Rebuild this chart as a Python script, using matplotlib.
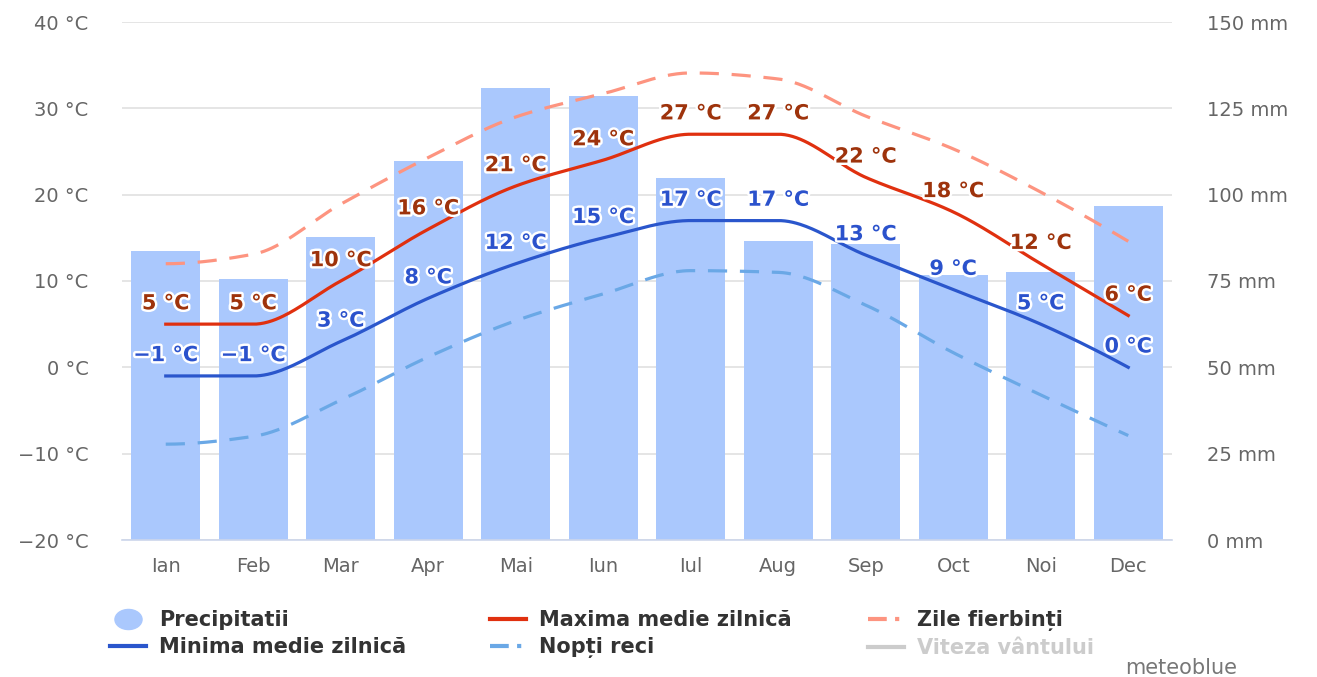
import numpy as np
import matplotlib
matplotlib.use("Agg")
import matplotlib.pyplot as plt
from matplotlib.lines import Line2D
from matplotlib.path import Path
from matplotlib.transforms import Affine2D
import matplotlib.patheffects as pe

# monthly climate values
months = ["Ian", "Feb", "Mar", "Apr", "Mai", "Iun", "Iul", "Aug", "Sep", "Oct", "Noi", "Dec"]
precip = [83.6, 75.7, 87.7, 109.7, 130.8, 128.7, 104.8, 86.6, 85.6, 76.6, 77.6, 96.6]
t_max = [5, 5, 10, 16, 21, 24, 27, 27, 22, 18, 12, 6]
t_min = [-1, -1, 3, 8, 12, 15, 17, 17, 13, 9, 5, 0]
hot_days = [12.0, 13.1, 18.9, 24.3, 29.0, 31.7, 34.1, 33.4, 29.1, 25.3, 20.3, 14.6]
cold_nights = [-8.9, -8.0, -3.8, 1.2, 5.4, 8.5, 11.2, 11.0, 7.2, 1.7, -3.2, -7.9]

temp_ticks = [-20, -10, 0, 10, 20, 30, 40]
mm_ticks = [0, 25, 50, 75, 100, 125, 150]

C_BAR = "#aac8fd"
C_MAX = "#e0300f"
C_MIN = "#2a56cc"
C_HOT = "#fd9480"
C_COLD = "#6aa8e6"
C_MAX_TXT = "#9e330c"
C_MIN_TXT = "#2b52cc"
C_TICK = "#666666"


def pchip(x, y, xs):
    # monotone cubic so flat stretches stay flat (like the original spline)
    x = np.asarray(x, float)
    y = np.asarray(y, float)
    h = np.diff(x)
    d = np.diff(y) / h
    n = len(x)
    m = np.zeros(n)
    for k in range(1, n - 1):
        if d[k - 1] * d[k] > 0:
            w1 = 2 * h[k] + h[k - 1]
            w2 = h[k] + 2 * h[k - 1]
            m[k] = (w1 + w2) / (w1 / d[k - 1] + w2 / d[k])

    def end(h0, h1, d0, d1):
        v = ((2 * h0 + h1) * d0 - h0 * d1) / (h0 + h1)
        if np.sign(v) != np.sign(d0):
            return 0.0
        if np.sign(d0) != np.sign(d1) and abs(v) > 3 * abs(d0):
            return 3 * d0
        return v

    m[0] = end(h[0], h[1], d[0], d[1])
    m[-1] = end(h[-1], h[-2], d[-1], d[-2])
    idx = np.clip(np.searchsorted(x, xs) - 1, 0, n - 2)
    t = (xs - x[idx]) / h[idx]
    h00 = 2 * t**3 - 3 * t**2 + 1
    h10 = t**3 - 2 * t**2 + t
    h01 = -2 * t**3 + 3 * t**2
    h11 = t**3 - t**2
    return h00 * y[idx] + h10 * h[idx] * m[idx] + h01 * y[idx + 1] + h11 * h[idx] * m[idx + 1]


def fmt(v):
    return f"{v} °C".replace("-", "\u2212")


W, H = 1317, 677
fig = plt.figure(figsize=(W / 100, H / 100), dpi=100)
ax = fig.add_axes([122 / W, 1 - 540 / H, 1050 / W, 518 / H])
ax2 = ax.twinx()
ax.set_zorder(ax2.get_zorder() + 1)
ax.patch.set_visible(False)

x = np.arange(len(months))
xs = np.linspace(0, len(months) - 1, 500)

# precipitation bars on the right axis
ax2.bar(x, precip, width=0.79, color=C_BAR, zorder=2)
ax2.set_ylim(0, 150)
ax2.set_yticks(mm_ticks)
ax2.set_yticklabels([f"{v} mm" for v in mm_ticks])
ax2.grid(axis="y", color="#e3e3e3", lw=1.3)
ax2.set_axisbelow(True)
ax2.tick_params(axis="y", length=0, pad=25, labelsize=14, labelcolor=C_TICK)

# temperature lines
dash = (6, 4)
ax.plot(xs, pchip(x, hot_days, xs), color=C_HOT, lw=2.3, dashes=dash, zorder=3)
ax.plot(xs, pchip(x, cold_nights, xs), color=C_COLD, lw=2.3, dashes=dash, zorder=3)
ax.plot(xs, pchip(x, t_max, xs), color=C_MAX, lw=2.3, zorder=4)
ax.plot(xs, pchip(x, t_min, xs), color=C_MIN, lw=2.3, zorder=4)

stroke = [pe.withStroke(linewidth=3.5, foreground="white")]
for vals, col in [(t_max, C_MAX_TXT), (t_min, C_MIN_TXT)]:
    for i, v in enumerate(vals):
        ax.annotate(fmt(v), (i, v), xytext=(0, 15), textcoords="offset points",
                    ha="center", va="center", color=col, fontsize=15,
                    fontweight="bold", path_effects=stroke, zorder=6)

ax.set_xlim(-0.5, len(months) - 0.5)
ax.set_ylim(-20, 40)
ax.set_yticks(temp_ticks)
ax.set_yticklabels([fmt(v) for v in temp_ticks])
ax.set_xticks(x)
ax.set_xticklabels(months)
ax.tick_params(axis="y", length=0, pad=24, labelsize=14, labelcolor=C_TICK)
ax.tick_params(axis="x", length=0, pad=12, labelsize=14, labelcolor=C_TICK)

for a in (ax, ax2):
    for s in a.spines.values():
        s.set_visible(False)
ax.spines["bottom"].set_visible(True)
ax.spines["bottom"].set_color("#ccd6eb")
ax.spines["bottom"].set_linewidth(1.2)

# legend, three columns
ellipse = Path.unit_circle().transformed(Affine2D().scale(1.35, 1.0))
h_precip = Line2D([], [], ls="none", marker=ellipse, markersize=19.5,
                  markerfacecolor=C_BAR, markeredgecolor=C_BAR)
h_min = Line2D([], [], color=C_MIN, lw=3)
h_max = Line2D([], [], color=C_MAX, lw=3)
h_cold = Line2D([], [], color=C_COLD, lw=3, dashes=(4.5, 2, 1, 5))
h_hot = Line2D([], [], color=C_HOT, lw=3, dashes=(4.5, 2, 1, 5))
h_wind = Line2D([], [], color="#cccccc", lw=3)

columns = [
    (110, [h_precip, h_min], ["Precipitatii", "Minima medie zilnică"], ["#333333", "#333333"]),
    (490, [h_max, h_cold], ["Maxima medie zilnică", "Nopți reci"], ["#333333", "#333333"]),
    (868, [h_hot, h_wind], ["Zile fierbinți", "Viteza vântului"], ["#333333", "#cccccc"]),
]
for x0, handles, labels, colors in columns:
    leg = fig.legend(handles, labels, loc="upper left", bbox_to_anchor=(x0 / W, 1 - 610 / H),
                     frameon=False, borderpad=0, borderaxespad=0, handlelength=1.73,
                     handletextpad=0.62, labelspacing=0.33,
                     prop={"size": 15, "weight": "bold"})
    for t, c in zip(leg.get_texts(), colors):
        t.set_color(c)

fig.text(1237 / W, 1 - 668 / H, "meteoblue", ha="right", va="center",
         color="#777777", fontsize=15)

fig.savefig("out.png", dpi=100)
